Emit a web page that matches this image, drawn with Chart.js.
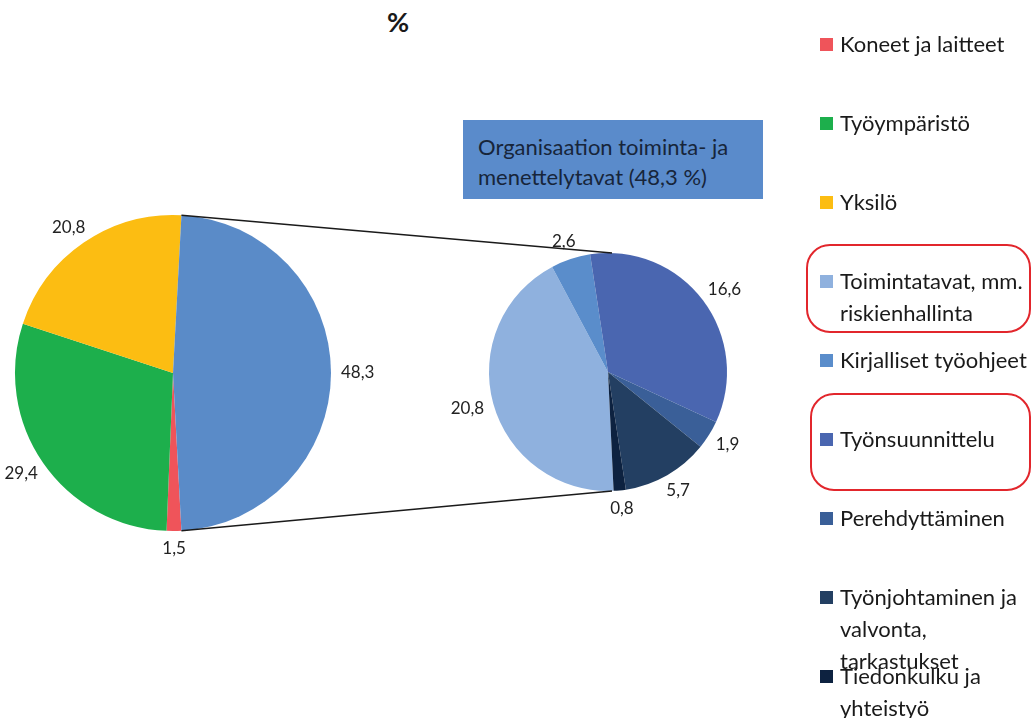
<!DOCTYPE html>
<html>
<head>
<meta charset="utf-8">
<script src="https://cdn.jsdelivr.net/npm/chart.js"></script>
<style>
  body { margin: 0; background: #fff; }
  #wrap { position: relative; width: 1033px; height: 718px; overflow: hidden; font-family: Lato, 'Open Sans', sans-serif; color: #1a1a1a; }
  #wrap canvas { position: absolute; left: 0; top: 0; }
  #title { position: absolute; left: 0; width: 796px; top: 5px; text-align: center; font-weight: bold; font-size: 27px; }
  #splitBox { position: absolute; left: 463px; top: 120px; width: 300px; height: 79px; box-sizing: border-box; padding: 12px 0 0 15px;
              background: #5a8bcb; color: #17253a; font-size: 22px; line-height: 30px; }
  .item { position: absolute; left: 820px; font-size: 22px; line-height: 32px; white-space: nowrap; }
  .item .sq { position: absolute; left: 0; top: 10px; width: 13px; height: 13px; }
  .item .txt { margin-left: 20px; }
  .mark { position: absolute; box-sizing: border-box; border: 2px solid #e2262c; border-radius: 24px; }
</style>
</head>
<body>
<div id="wrap">
  <div id="title">%</div>
  <canvas id="mainPie" width="1033" height="718"></canvas>
  <canvas id="subPie" width="1033" height="718"></canvas>
  <div id="splitBox"></div>
  <div id="legend"></div>
  <div class="mark" style="left:806px; top:244px; width:225px; height:89px;"></div>
  <div class="mark" style="left:810px; top:393px; width:221px; height:98px;"></div>
</div>
<script>
// primary pie (the last entry is split into the secondary pie)
const mainLabels = ['Koneet ja laitteet', 'Työympäristö', 'Yksilö', 'Organisaation toiminta- ja menettelytavat'];
const mainValues = [1.5, 29.4, 20.8, 48.3];
const mainColors = ['#ef545a', '#1daf4c', '#fcbd12', '#5a8bc8'];

// secondary pie
const subLabels = [
  ['Toimintatavat, mm.', 'riskienhallinta'],
  ['Kirjalliset työohjeet'],
  ['Työnsuunnittelu'],
  ['Perehdyttäminen'],
  ['Työnjohtaminen ja', 'valvonta,', 'tarkastukset'],
  ['Tiedonkulku ja', 'yhteistyö']
];
const subValues = [20.8, 2.6, 16.6, 1.9, 5.7, 0.8];
const subColors = ['#8fb1de', '#5a8dcb', '#4a66b0', '#3a5f98', '#233f62', '#0d2240'];
const subRotation = 177.3;

const fmt = v => v.toFixed(1).replace('.', ',');

// box describing the split slice
const splitIdx = mainValues.length - 1;
document.getElementById('splitBox').innerHTML =
  'Organisaation toiminta- ja<br>menettelytavat (' + fmt(mainValues[splitIdx]) + ' %)';

// legend (the split slice is not listed)
const legendEntries = [];
mainLabels.slice(0, splitIdx).forEach((l, i) => legendEntries.push({ lines: [l], color: mainColors[i] }));
subLabels.forEach((l, i) => legendEntries.push({ lines: l, color: subColors[i] }));
const legendEl = document.getElementById('legend');
legendEntries.forEach((e, i) => {
  const d = document.createElement('div');
  d.className = 'item';
  d.style.top = (44 + i * 79 - 16) + 'px';
  d.innerHTML = '<div class="sq" style="background:' + e.color + '"></div><div class="txt">' + e.lines.join('<br>') + '</div>';
  legendEl.appendChild(d);
});

// value labels outside each slice
const outsideLabels = {
  id: 'outsideLabels',
  afterDatasetsDraw(chart) {
    const ctx = chart.ctx;
    const meta = chart.getDatasetMeta(0);
    const values = chart.data.datasets[0].data;
    ctx.save();
    ctx.font = '17px Lato';
    ctx.fillStyle = '#222';
    ctx.textAlign = 'center';
    ctx.textBaseline = 'middle';
    meta.data.forEach((arc, i) => {
      const mid = (arc.startAngle + arc.endAngle) / 2;
      const txt = fmt(values[i]);
      const w = ctx.measureText(txt).width;
      const r = arc.outerRadius + 10;
      ctx.fillText(txt, arc.x + Math.cos(mid) * (r + w / 2), arc.y + Math.sin(mid) * (r + 8));
    });
    ctx.restore();
  }
};

let mainChart;

// lines joining the split slice to the secondary pie
const connector = {
  id: 'connector',
  afterDraw(chart) {
    if (!mainChart) return;
    const a = mainChart.getDatasetMeta(0).data[splitIdx];
    const b = chart.getDatasetMeta(0).data[0];
    const R = a.outerRadius, r = b.outerRadius;
    const ctx = chart.ctx;
    ctx.save();
    ctx.strokeStyle = '#1a1a1a';
    ctx.lineWidth = 1.6;
    ctx.beginPath();
    ctx.moveTo(a.x + Math.cos(a.startAngle) * R, a.y + Math.sin(a.startAngle) * R);
    ctx.lineTo(b.x + 4, b.y - r);
    ctx.moveTo(a.x + Math.cos(a.endAngle) * R, a.y + Math.sin(a.endAngle) * R);
    ctx.lineTo(b.x + 4, b.y + r);
    ctx.stroke();
    ctx.restore();
  }
};

const baseOptions = (padding, rotation) => ({
  responsive: false,
  devicePixelRatio: 1,
  animation: false,
  rotation: rotation,
  layout: { padding: padding },
  plugins: { legend: { display: false }, tooltip: { enabled: false } },
  events: []
});

const mainTotal = mainValues.reduce((s, v) => s + v, 0);
mainChart = new Chart(document.getElementById('mainPie'), {
  type: 'pie',
  data: { labels: mainLabels, datasets: [{ data: mainValues, backgroundColor: mainColors, borderWidth: 0 }] },
  options: baseOptions({ left: 14, right: 701, top: 215, bottom: 187 }, 90 + mainValues[splitIdx] / mainTotal * 180),
  plugins: [outsideLabels]
});

new Chart(document.getElementById('subPie'), {
  type: 'pie',
  data: { labels: subLabels, datasets: [{ data: subValues, backgroundColor: subColors, borderWidth: 0 }] },
  options: baseOptions({ left: 489, right: 306, top: 253, bottom: 227 }, subRotation),
  plugins: [outsideLabels, connector]
});
</script>
</body>
</html>
